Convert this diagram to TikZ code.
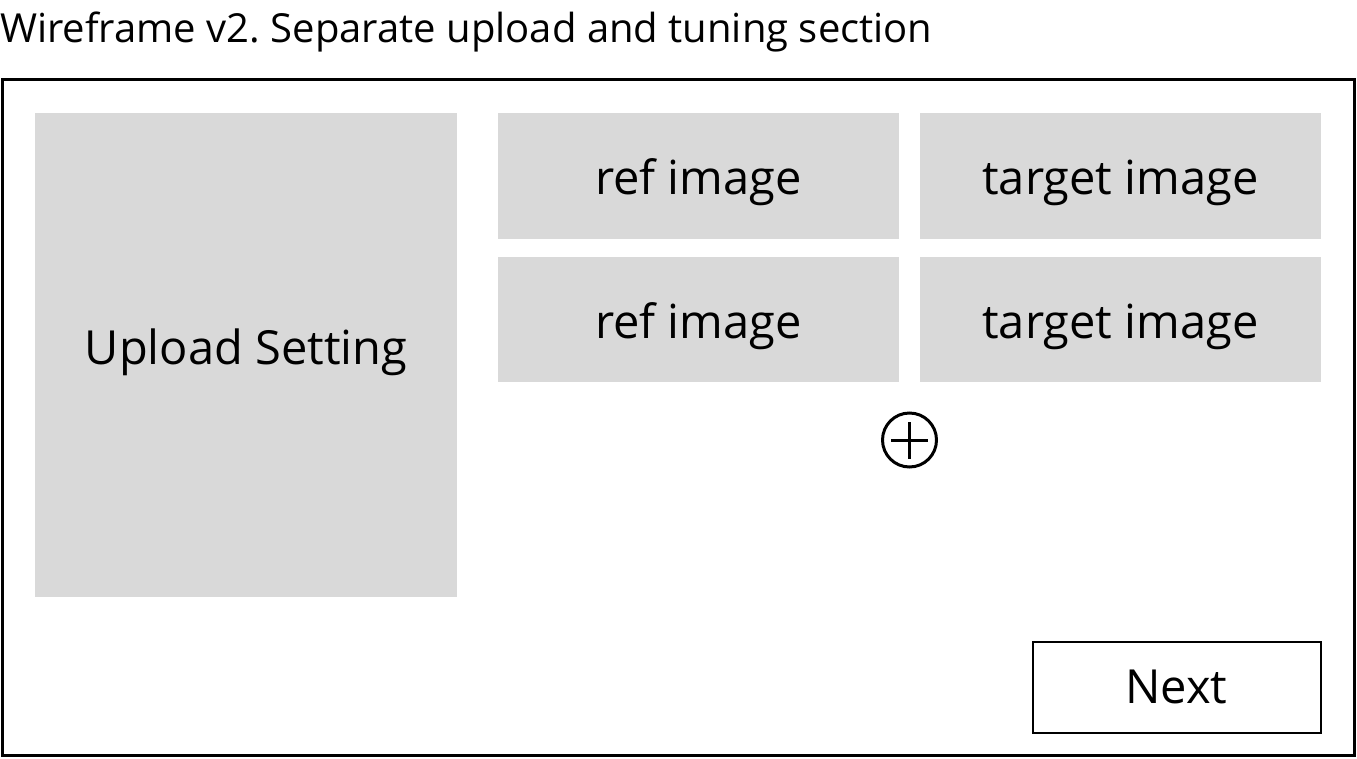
\documentclass[tikz,border=0pt]{standalone}
\usepackage{fontspec}
\setmainfont{Open Sans}
\frenchspacing
\begin{document}
\begin{tikzpicture}[x=1pt,y=-1pt,
  panel/.style={fill=black!15,draw=none,inner sep=0pt},
  lbl/.style={anchor=base,inner sep=0pt,font=\fontsize{47}{52}\selectfont},
  btn/.style={draw=black,line width=2pt,fill=white,inner sep=0pt}]
\useasboundingbox (0,0) rectangle (1357,758);
\node[anchor=base west,inner sep=0pt,font=\fontsize{40}{44}\selectfont] (title) at (0,42) {Wireframe v2. Separate upload and tuning section};
\draw[line width=3pt] (2.5,79.5) rectangle (1354.5,755.5);
\node[panel,minimum width=422pt,minimum height=484pt] (upload) at (246,355) {};
\node[panel,minimum width=401pt,minimum height=126pt] (ref1) at (698.5,176) {};
\node[panel,minimum width=401pt,minimum height=126pt] (tgt1) at (1120.5,176) {};
\node[panel,minimum width=401pt,minimum height=125pt] (ref2) at (698.5,319.5) {};
\node[panel,minimum width=401pt,minimum height=125pt] (tgt2) at (1120.5,319.5) {};
\node[lbl] (uploadtxt) at ([yshift=-9pt]upload.center) {Upload Setting};
\node[lbl] (ref1txt) at ([yshift=-18pt]ref1.center) {ref image};
\node[lbl] (tgt1txt) at ([yshift=-18pt]tgt1.center) {target image};
\node[lbl] (ref2txt) at ([yshift=-18.5pt]ref2.center) {ref image};
\node[lbl] (tgt2txt) at ([yshift=-18.5pt]tgt2.center) {target image};
\node[circle,draw,line width=3pt,minimum size=54pt,inner sep=0pt] (plus) at (909.5,440) {};
\draw[line width=3pt] ([xshift=-18.5pt]plus.center) -- ([xshift=18.5pt]plus.center);
\draw[line width=3pt] ([yshift=-18.5pt]plus.center) -- ([yshift=18.5pt]plus.center);
\node[btn,minimum width=288pt,minimum height=91pt] (next) at (1176.5,687) {};
\node[lbl] (nexttxt) at ([yshift=-16pt]next.center) {Next};
\end{tikzpicture}
\end{document}
